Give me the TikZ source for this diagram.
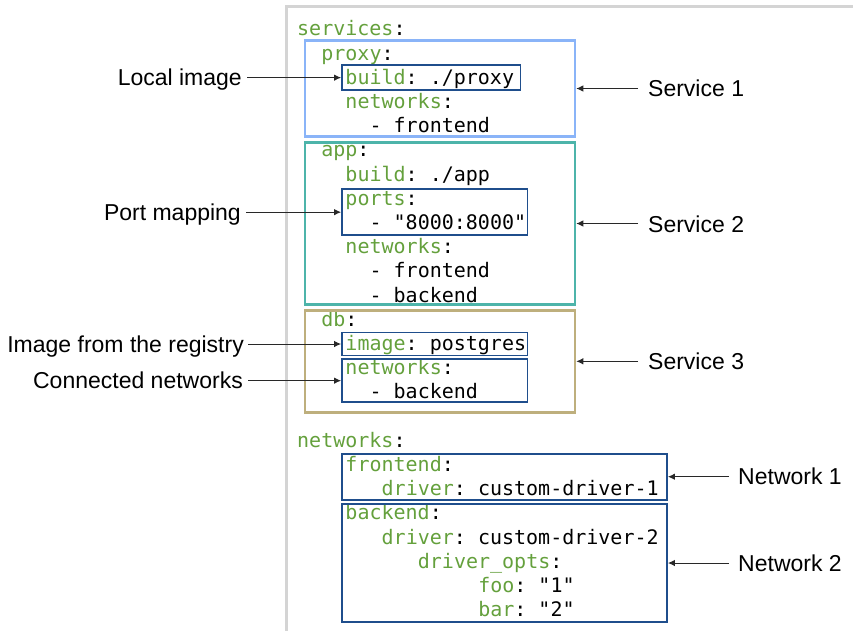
\documentclass[tikz,border=0pt]{standalone}
\usepackage{fontspec}
\setmainfont{Liberation Sans}
\setmonofont{DejaVu Sans Mono}
\usetikzlibrary{arrows.meta,fit}

\definecolor{keygreen}{RGB}{100,160,60}
\definecolor{proxyblue}{RGB}{138,180,248}
\definecolor{appteal}{RGB}{77,180,170}
\definecolor{dbtan}{RGB}{190,175,125}
\definecolor{innerblue}{RGB}{31,78,140}
\definecolor{framegray}{RGB}{212,212,212}
\definecolor{arrowgray}{RGB}{40,40,40}

% YAML key in green
\newcommand\yamlkey[1]{\textcolor{keygreen}{#1}}

\tikzset{
  code/.style={anchor=base west, inner sep=0pt, font=\ttfamily\fontsize{20}{24}\selectfont},
  lbl/.style={inner sep=0pt, font=\fontsize{23}{27}\selectfont},
  svcbox/.style={draw, line width=2.5pt, inner sep=0pt},
  keybox/.style={draw=innerblue, line width=1.8pt, inner sep=0pt},
  arr/.style={draw=arrowgray, line width=1pt, -{Latex[length=7pt,width=6.5pt]}},
}

% one line of the listing: name, column, row, text
\newcommand\codeline[4]{\node[code] (#1) at ({297+#2*12.07},{35.8+24.2*#3}) {#4};}

\begin{document}
\begin{tikzpicture}[x=1pt,y=-1pt]
\useasboundingbox (0,0) rectangle (853,630);

% editor frame
\draw[framegray, line width=3pt] (286.5,631) -- (286.5,6) -- (854,6);

% listing
\codeline{l0}{0}{0}{\yamlkey{services}:}
\codeline{l1}{2}{1}{\yamlkey{proxy}:}
\codeline{l2}{4}{2}{\yamlkey{build}: ./proxy}
\codeline{l3}{4}{3}{\yamlkey{networks}:}
\codeline{l4}{6}{4}{- frontend}
\codeline{l5}{2}{5}{\yamlkey{app}:}
\codeline{l6}{4}{6}{\yamlkey{build}: ./app}
\codeline{l7}{4}{7}{\yamlkey{ports}:}
\codeline{l8}{6}{8}{- "8000:8000"}
\codeline{l9}{4}{9}{\yamlkey{networks}:}
\codeline{l10}{6}{10}{- frontend}
\codeline{l11}{6}{11}{- backend}
\codeline{l12}{2}{12}{\yamlkey{db}:}
\codeline{l13}{4}{13}{\yamlkey{image}: postgres}
\codeline{l14}{4}{14}{\yamlkey{networks}:}
\codeline{l15}{6}{15}{- backend}
\codeline{l17}{0}{17}{\yamlkey{networks}:}
\codeline{l18}{4}{18}{\yamlkey{frontend}:}
\codeline{l19}{7}{19}{\yamlkey{driver}: custom-driver-1}
\codeline{l20}{4}{20}{\yamlkey{backend}:}
\codeline{l21}{7}{21}{\yamlkey{driver}: custom-driver-2}
\codeline{l22}{10}{22}{\yamlkey{driver\_opts}:}
\codeline{l23}{15}{23}{\yamlkey{foo}: "1"}
\codeline{l24}{15}{24}{\yamlkey{bar}: "2"}

% service boxes
\node[svcbox, draw=proxyblue, fit={(305,40.5) (575,136.5)}] (proxybox) {};
\node[svcbox, draw=appteal, fit={(305,142.5) (575,304.5)}] (appbox) {};
\node[svcbox, draw=dbtan, fit={(305,310.3) (575,412.3)}] (dbbox) {};

% boxes around single keys
\node[keybox, fit={(342,65) (520.5,90.3)}] (buildbox) {};
\node[keybox, fit={(342,189.3) (527.5,235)}] (portsbox) {};
\node[keybox, fit={(342,332.5) (527.5,355.5)}] (imagebox) {};
\node[keybox, fit={(342,359) (527.5,402.3)}] (dbnetbox) {};
\node[keybox, fit={(342,453.7) (667,499.7)}] (frontbox) {};
\node[keybox, fit={(342,503.7) (667,622.3)}] (backbox) {};

% labels on the left
\node[lbl, anchor=base east] (localimg) at (242,85.8) {Local image};
\node[lbl, anchor=base east] (portmap) at (241,220.3) {Port mapping};
\node[lbl, anchor=base east] (registry) at (244,352.2) {Image from the registry};
\node[lbl, anchor=base east] (connnet) at (243,388.9) {Connected networks};

% labels on the right
\node[lbl, anchor=base west] (svc1) at (648,96.7) {Service 1};
\node[lbl, anchor=base west] (svc2) at (648,232.2) {Service 2};
\node[lbl, anchor=base west] (svc3) at (648,369.5) {Service 3};
\node[lbl, anchor=base west] (net1) at (738,484.9) {Network 1};
\node[lbl, anchor=base west] (net2) at (738,571.2) {Network 2};

% connectors
\draw[arr, shorten <=5pt] (localimg.east |- buildbox.west) -- (buildbox.west);
\draw[arr, shorten <=5pt] (portmap.east |- portsbox.west) -- (portsbox.west);
\draw[arr, shorten <=4pt] (registry.east |- imagebox.west) -- (imagebox.west);
\draw[arr, shorten <=5pt] (connnet.east |- dbnetbox.west) -- (dbnetbox.west);

\draw[arr, shorten <=10pt] (svc1.west |- proxybox.east) -- (proxybox.east);
\draw[arr, shorten <=10pt] (svc2.west |- appbox.east) -- (appbox.east);
\draw[arr, shorten <=10pt] (svc3.west |- dbbox.east) -- (dbbox.east);
\draw[arr, shorten <=9pt] (net1.west |- frontbox.east) -- (frontbox.east);
\draw[arr, shorten <=9pt] (net2.west |- backbox.east) -- (backbox.east);
\end{tikzpicture}
\end{document}
